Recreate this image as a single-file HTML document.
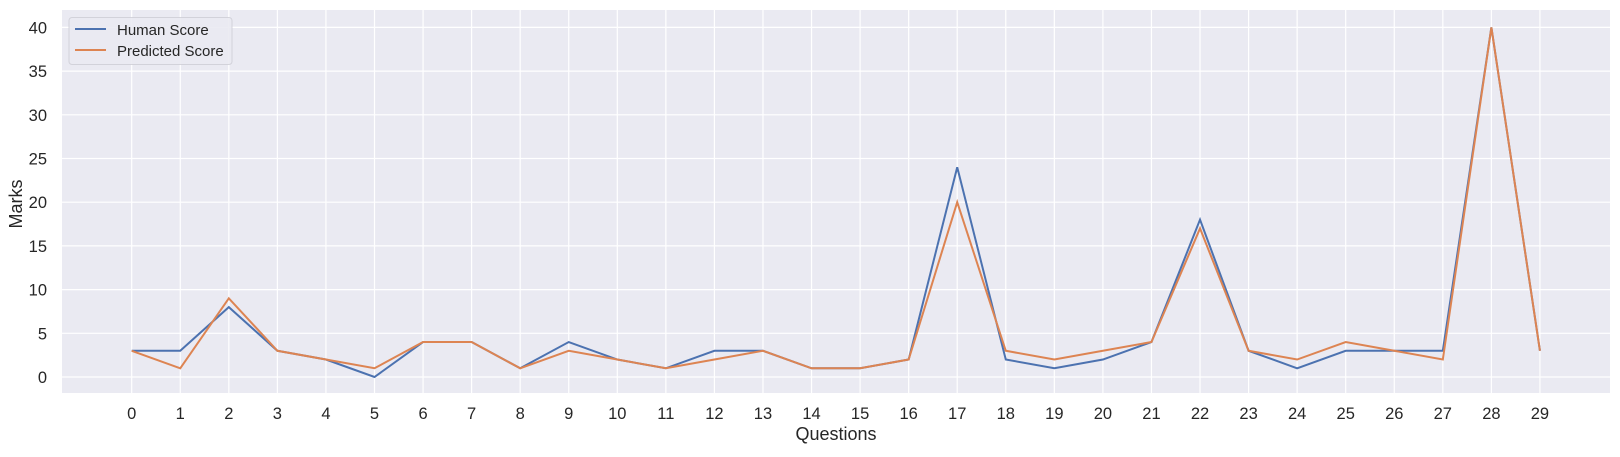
<!DOCTYPE html>
<html><head><meta charset="utf-8"><style>
body{margin:0;background:#fff;}
svg text{font-family:"Liberation Sans",Arial,sans-serif;fill:#262626;}
</style></head><body>
<svg id="chart" width="1620" height="452">
<rect x="62" y="10" width="1548" height="383" fill="#eaeaf2"/>
<g id="grid"></g><g id="lines"></g><g id="ticks"></g>
<text x="836" y="440" font-size="18" text-anchor="middle">Questions</text>
<text x="22" y="204" font-size="18" text-anchor="middle" transform="rotate(-90 22 204)">Marks</text>
<g>
<rect x="69" y="17.5" width="163" height="47" rx="3" fill="#eaeaf2" stroke="#d0d0d8" opacity="0.9"/>
<line x1="75" y1="29" x2="106" y2="29" stroke="#4c72b0" stroke-width="2"/>
<text x="117" y="35" font-size="15">Human Score</text>
<line x1="75" y1="50" x2="106" y2="50" stroke="#dd8452" stroke-width="2"/>
<text x="117" y="56" font-size="15">Predicted Score</text>
</g>
</svg>
<script>
const questions=[...Array(30).keys()];
const humanScore=[3,3,8,3,2,0,4,4,1,4,2,1,3,3,1,1,2,24,2,1,2,4,18,3,1,3,3,3,40,3];
const predictedScore=[3,1,9,3,2,1,4,4,1,3,2,1,2,3,1,1,2,20,3,2,3,4,17,3,2,4,3,2,40,3];
const yTicks=[0,5,10,15,20,25,30,35,40];
const NS="http://www.w3.org/2000/svg";
const xS=i=>131.7+i*48.56;
const yS=v=>377-v*8.74;
function mk(t,a,p){const e=document.createElementNS(NS,t);for(const k in a)e.setAttribute(k,a[k]);p.appendChild(e);return e;}
const grid=document.getElementById('grid'),ticks=document.getElementById('ticks'),lines=document.getElementById('lines');
yTicks.forEach(v=>{
 const l=mk('line',{x1:62,x2:1610,y1:yS(v),y2:yS(v),stroke:'#fff','stroke-width':1.2},grid);
 
 
 const t=mk('text',{x:47,y:yS(v)+6,'font-size':16.5,'text-anchor':'end'},ticks);t.textContent=v;
 
 
});
questions.forEach(q=>{
 const l=mk('line',{x1:xS(q),x2:xS(q),y1:10,y2:393,stroke:'#fff','stroke-width':1.2},grid);
 
 
 const t=mk('text',{x:xS(q),y:419,'font-size':16.5,'text-anchor':'middle'},ticks);t.textContent=q;
 
 
});
const h=mk('polyline',{points:humanScore.map((v,i)=>xS(i)+','+yS(v)).join(' '),fill:'none',stroke:'#4c72b0','stroke-width':2},lines);


const p=mk('polyline',{points:predictedScore.map((v,i)=>xS(i)+','+yS(v)).join(' '),fill:'none',stroke:'#dd8452','stroke-width':2},lines);


</script>
</body></html>
